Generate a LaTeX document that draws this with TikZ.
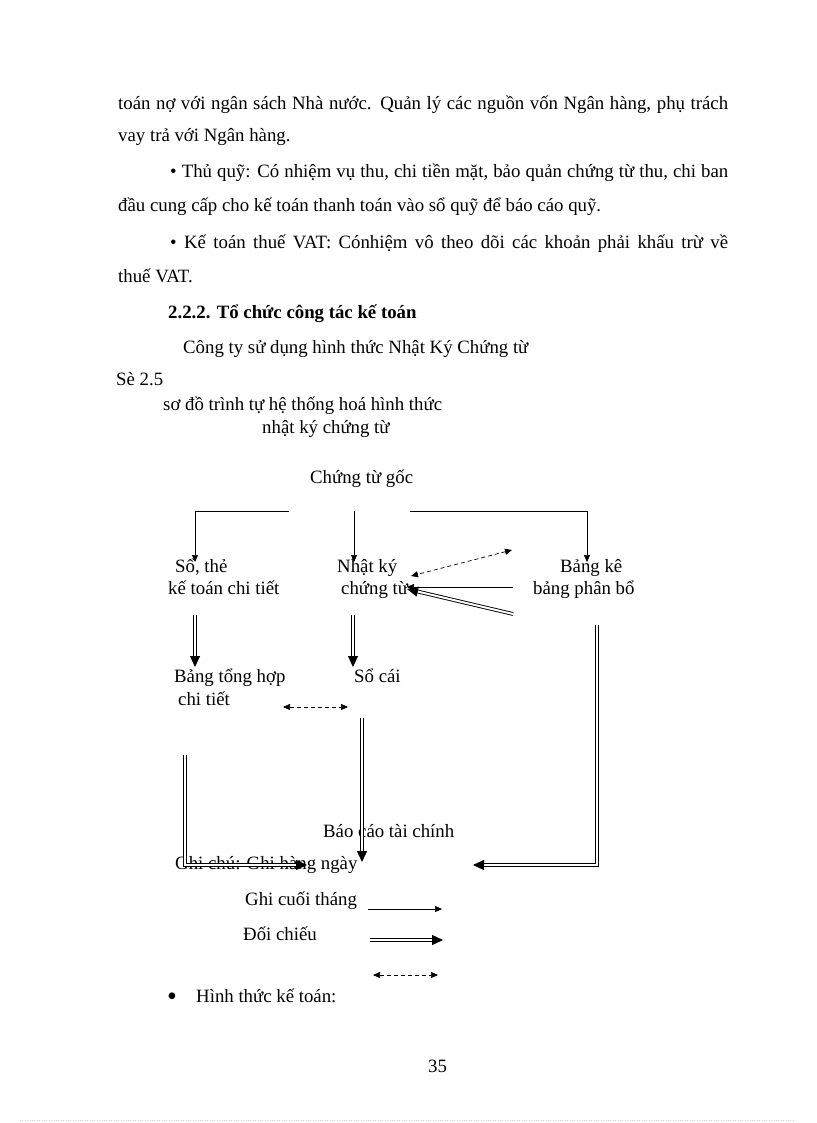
\documentclass[tikz,border=0pt]{standalone}
\usepackage{fontspec}
\setmainfont{Liberation Serif}
\usetikzlibrary{arrows.meta}

\begin{document}
\begin{tikzpicture}[x=1pt,y=-1pt,
                        txt/.style={anchor=base west,inner sep=0pt,font=\fontsize{18.8}{23}\selectfont},
                        arrsingle/.style={line width=0.7pt,-{Triangle[length=7pt,width=6pt]}},
                        arrtwin/.style={double,double distance=2pt,line width=0.9pt,-{Triangle[length=11pt,width=10pt]}},
                        arrfat/.style={arrtwin,line width=1.3pt,double distance=1.8pt},
                        arrdash/.style={dash pattern=on 4pt off 3pt,line width=0.7pt,{Triangle[length=7pt,width=6pt]}-{Triangle[length=7pt,width=6pt]}},
                        ]
                        \useasboundingbox (0,0) rectangle (816,1123);
                        %Absatz oben
                        \node[txt] (p1) at (118,110) {\makebox[610pt][s]{toán nợ với ngân sách Nhà nước. Quản lý các nguồn vốn Ngân hàng, phụ trách}};
                        \node[txt] (p2) at (118,142) {vay trả với Ngân hàng.};
                        \node[txt] (p3) at (170,178) {\makebox[558pt][s]{• Thủ quỹ: Có nhiệm vụ thu, chi tiền mặt, bảo quản chứng từ thu, chi ban}};
                        \node[txt] (p4) at (118,212) {đầu cung cấp cho kế toán thanh toán vào sổ quỹ để báo cáo quỹ.};
                        \node[txt] (p5) at (170,248) {\makebox[558pt][s]{• Kế toán thuế VAT: Cónhiệm vô theo dõi các khoản phải khấu trừ về}};
                        \node[txt] (p6) at (118,282) {thuế VAT.};
                        \node[txt,font=\fontsize{18.8}{23}\selectfont\bfseries] (head) at (168,318) {2.2.2. Tổ chức công tác kế toán};
                        \node[txt] (p7) at (183,353) {Công ty sử dụng hình thức Nhật Ký Chứng từ};
                        \node[txt] (se) at (116,385) {Sè 2.5};
                        \node[txt] (title1) at (163,410) {sơ đồ trình tự hệ thống hoá hình thức};
                        \node[txt] (title2) at (262,433) {nhật ký chứng từ};
                        %Knoten
                        \node[txt] (goc) at (310,483) {Chứng từ gốc};
                        \node[txt] (sothe) at (175,572) {Sổ, thẻ};
                        \node[txt] (chitiet) at (168,594) {kế toán chi tiết};
                        \node[txt] (nhatky) at (337,572) {Nhật ký};
                        \node[txt] (chungtu) at (341,594) {chứng từ};
                        \node[txt] (bangke) at (560,572) {Bảng kê};
                        \node[txt] (phanbo) at (533,594) {bảng phân bổ};
                        \node[txt] (tonghop) at (174,682) {Bảng tổng hợp};
                        \node[txt] (tonghop2) at (178,705) {chi tiết};
                        \node[txt] (socai) at (354,682) {Sổ cái};
                        \node[txt] (baocao) at (323,837) {Báo cáo tài chính};
                        %Legende
                        \node[txt] (ghichu) at (175,869) {Ghi chú: Ghi hàng ngày};
                        \node[txt] (cuoithang) at (245,905) {Ghi cuối tháng};
                        \node[txt] (doichieu) at (243,940) {Đối chiếu};
                        \node[txt,font=\fontsize{28}{28}\selectfont] (bullet) at (167,1005) {•};
                        \node[txt] (hinhthuc) at (196,1002) {Hình thức kế toán:};
                        \node[txt] (page) at (428,1072) {35};
                        %Punkte
                        \coordinate (c1) at (289,511);
                        \coordinate (c2) at (195,511);
                        \coordinate (c3) at (195,562);
                        \coordinate (c4) at (354,511);
                        \coordinate (c5) at (354,562);
                        \coordinate (c6) at (410,511);
                        \coordinate (c7) at (587,511);
                        \coordinate (c8) at (587,562);
                        \coordinate (k1) at (512,550);
                        \coordinate (k2) at (411,576);
                        \coordinate (k3) at (513,587);
                        \coordinate (k4) at (407,587);
                        \coordinate (k5) at (513,614);
                        \coordinate (k6) at (407,589);
                        \coordinate (d1) at (195,615);
                        \coordinate (d2) at (195,667);
                        \coordinate (d3) at (353,615);
                        \coordinate (d4) at (353,667);
                        \coordinate (r1) at (597,625);
                        \coordinate (r2) at (597,865);
                        \coordinate (r3) at (473,865);
                        \coordinate (m1) at (283,707);
                        \coordinate (m2) at (348,707);
                        \coordinate (m3) at (362,718);
                        \coordinate (m4) at (362,862);
                        \coordinate (l1) at (185,755);
                        \coordinate (l2) at (185,865);
                        \coordinate (l3) at (307,865);
                        \coordinate (z1) at (368,909);
                        \coordinate (z2) at (442,909);
                        \coordinate (z3) at (370,940);
                        \coordinate (z4) at (443,940);
                        \coordinate (z5) at (373,975);
                        \coordinate (z6) at (438,975);
                        %Pfeile
                        \draw [arrsingle] (c1) -- (c2) -- (c3);
                        \draw [arrsingle] (c4) -- (c5);
                        \draw [arrsingle] (c6) -- (c7) -- (c8);
                        \draw [arrdash] (k1) -- (k2);
                        \draw [arrsingle] (k3) -- (k4);
                        \draw [arrtwin] (k5) -- (k6);
                        \draw [arrtwin] (d1) -- (d2);
                        \draw [arrtwin] (d3) -- (d4);
                        \draw [arrtwin] (r1) -- (r2) -- (r3);
                        \draw [arrdash] (m1) -- (m2);
                        \draw [arrfat] (m3) -- (m4);
                        \draw [arrtwin] (l1) -- (l2) -- (l3);
                        \draw [arrsingle] (z1) -- (z2);
                        \draw [arrfat] (z3) -- (z4);
                        \draw [arrdash] (z5) -- (z6);
                        %Rand unten
                        \draw [gray!40,dotted] (20,1120) -- (795,1120);
                \end{tikzpicture}
\end{document}
